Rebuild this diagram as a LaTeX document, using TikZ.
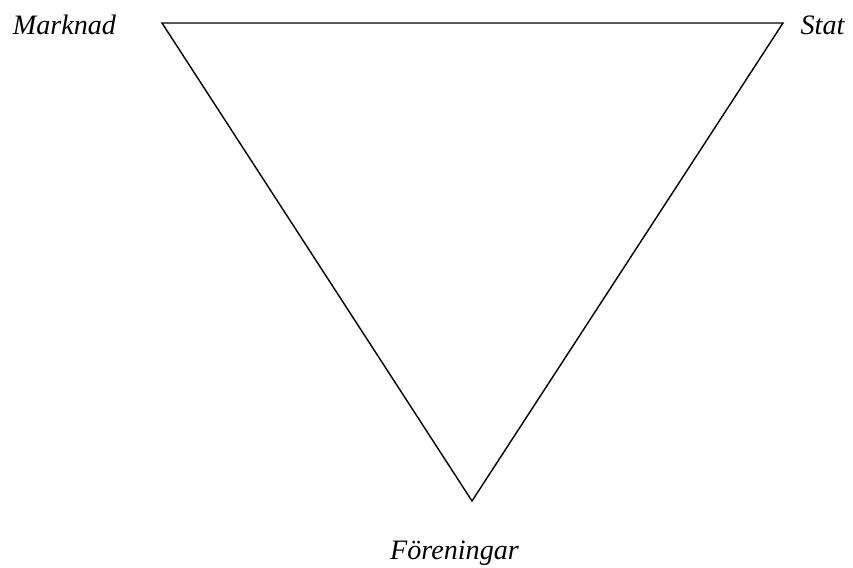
\documentclass[tikz,border=0pt]{standalone}
\usepackage{fontspec}
\setmainfont{Liberation Serif}
\usepackage{tikz}
\usetikzlibrary{positioning}

\tikzset{
    sector/.style={font=\itshape\fontsize{16}{19}\selectfont, anchor=base, inner sep=0pt},
    edge/.style={thick, line join=miter}
}

\begin{document}
\begin{tikzpicture}[scale=1.0]

    % Page frame
    \useasboundingbox (0,0) rectangle (17.06,11.34);

    % === Corners of the triangle ===
    \coordinate (marknadC) at (3.24,10.88);
    \coordinate (statC) at (15.66,10.88);
    \coordinate (foreningarC) at (9.44,1.32);

    % Triangle
    \draw[edge] (marknadC) -- (statC) -- (foreningarC) -- cycle;

    % Labels
    \node[sector] (marknad) at (1.29,10.64) {Marknad};
    \node[sector] (stat) at (16.45,10.64) {Stat};
    \node[sector] (foreningar) at (9.09,0.16) {Föreningar};

\end{tikzpicture}
\end{document}
